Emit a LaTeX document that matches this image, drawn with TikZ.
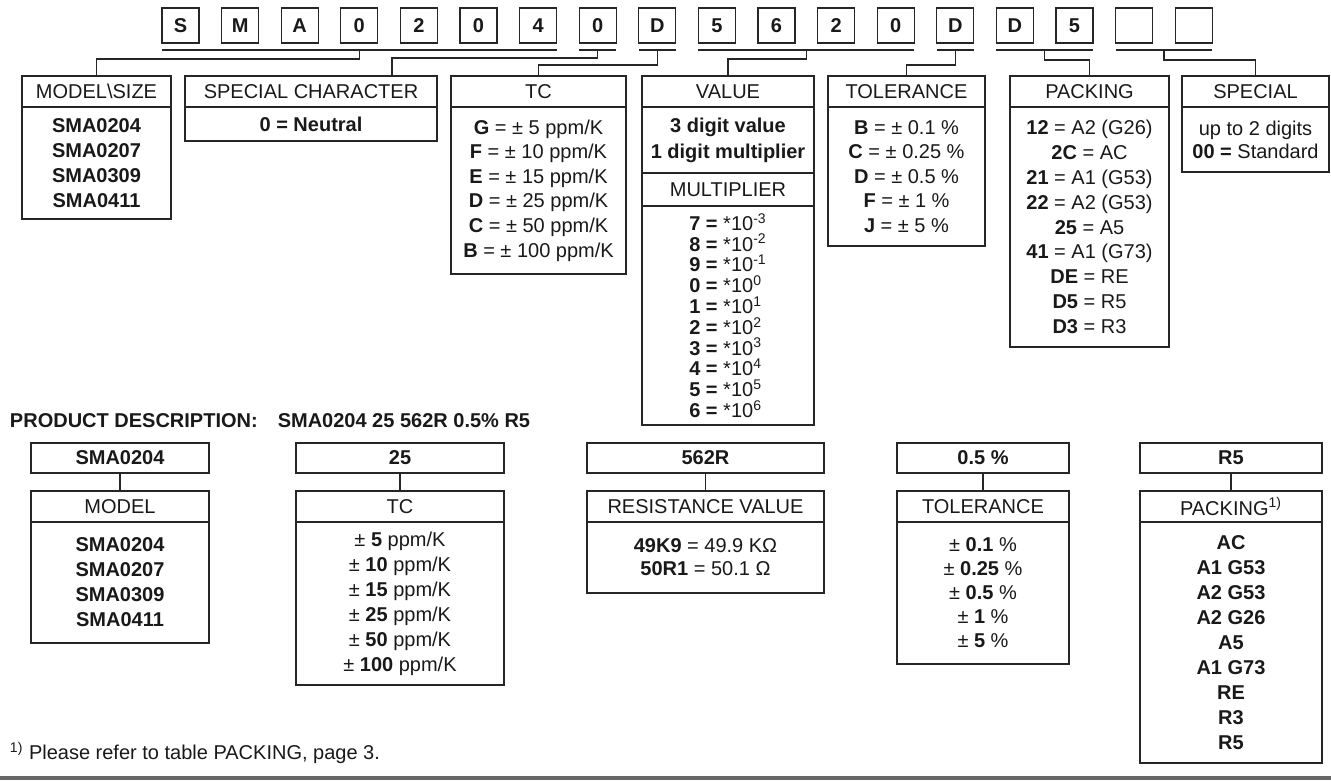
\documentclass[tikz,border=0pt]{standalone}
\usepackage{fontspec}
\setmainfont{Liberation Sans}
\usepackage{tikz}
\usetikzlibrary{positioning}

\newcommand{\ptsize}{\fontsize{10}{12.5}\selectfont}

\begin{document}
\begin{tikzpicture}[
        x=0.5pt, y=-0.5pt,
        every node/.style={outer sep=0pt, text=black!90},
        digit/.style={
            draw=black!85,
            line width=0.6pt,
            minimum width=18.5pt,
            minimum height=17.5pt,
            inner sep=0pt,
            font=\ptsize\bfseries
        },
        head/.style={
            draw=black!85,
            line width=0.6pt,
            minimum height=15.5pt,
            inner sep=0pt,
            font=\ptsize
        },
        body/.style={
            draw=black!85,
            line width=0.6pt,
            inner sep=0pt,
            align=center,
            font=\ptsize
        },
        plain/.style={
            inner sep=0pt,
            font=\ptsize
        },
        link/.style={
            draw=black!85,
            line width=0.6pt
        }
    ]
    \useasboundingbox (0,0) rectangle (1331,781);

    % Code boxes
    \foreach \ch [count=\i from 0] in {S,M,A,0,2,0,4,0,D,5,6,2,0,D,D,5,{},{}}
        \node[digit] (d\i) at ({180.5+59.6*\i},25.5) {\ch};

    % Underlines below the code groups
    \foreach \a/\b/\n in {0/6/modsz, 7/7/schar, 8/8/tc, 9/12/val, 13/13/tol, 14/15/pack, 16/17/spec}
        \draw[link] ([yshift=-3.5pt]d\a.south west) -- coordinate (u\n) ([yshift=-3.5pt]d\b.south east);

    % Box for model / size
    \node[head, minimum width=74.5pt] (modsz) at (96.5,91.5) {MODEL\textbackslash SIZE};
    \node[body, minimum width=74.5pt, minimum height=56pt, below=0pt of modsz, font=\ptsize\bfseries] (modszb) {
        SMA0204\\SMA0207\\SMA0309\\SMA0411};

    % Box for special character
    \node[head, minimum width=126pt] (schar) at (311,91.5) {SPECIAL CHARACTER};
    \node[body, minimum width=126pt, minimum height=17pt, below=0pt of schar] (scharb) {\textbf{0 = Neutral}};

    % Box for TC
    \node[head, minimum width=87.5pt] (tc) at (538.5,91.5) {TC};
    \node[body, minimum width=87.5pt, minimum height=83.5pt, below=0pt of tc, font=\fontsize{10}{12.3}\selectfont] (tcb) {
        \textbf{G} = ± 5 ppm/K\\
        \textbf{F} = ± 10 ppm/K\\
        \textbf{E} = ± 15 ppm/K\\
        \textbf{D} = ± 25 ppm/K\\
        \textbf{C} = ± 50 ppm/K\\
        \textbf{B} = ± 100 ppm/K};

    % Box for value and multiplier
    \node[head, minimum width=86pt] (val) at (728,91.5) {VALUE};
    \node[body, minimum width=86pt, minimum height=33pt, below=0pt of val, font=\fontsize{10}{13}\selectfont\bfseries] (valb) {
        3 digit value\\1 digit multiplier};
    \node[head, minimum width=86pt, minimum height=16.5pt, below=0pt of valb] (mult) {MULTIPLIER};
    \node[body, minimum width=86pt, minimum height=109.5pt, below=0pt of mult, align=left, font=\fontsize{10}{10.4}\selectfont] (multb) {
        \textbf{7 =} *10\textsuperscript{-3}\\
        \textbf{8 =} *10\textsuperscript{-2}\\
        \textbf{9 =} *10\textsuperscript{-1}\\
        \textbf{0 =} *10\textsuperscript{0}\\
        \textbf{1 =} *10\textsuperscript{1}\\
        \textbf{2 =} *10\textsuperscript{2}\\
        \textbf{3 =} *10\textsuperscript{3}\\
        \textbf{4 =} *10\textsuperscript{4}\\
        \textbf{5 =} *10\textsuperscript{5}\\
        \textbf{6 =} *10\textsuperscript{6}};

    % Box for tolerance
    \node[head, minimum width=78.5pt] (tol) at (906.5,91.5) {TOLERANCE};
    \node[body, minimum width=78.5pt, minimum height=69.5pt, below=0pt of tol, font=\fontsize{10}{12.25}\selectfont] (tolb) {
        \textbf{B} = ± 0.1 \%\\
        \textbf{C} = ± 0.25 \%\\
        \textbf{D} = ± 0.5 \%\\
        \textbf{F} = ± 1 \%\\
        \textbf{J} = ± 5 \%};

    % Box for packing
    \node[head, minimum width=79.5pt] (pack) at (1089.5,91.5) {PACKING};
    \node[body, minimum width=79.5pt, minimum height=120pt, below=0pt of pack, font=\fontsize{10}{12.4}\selectfont] (packb) {
        \textbf{12} = A2 (G26)\\
        \textbf{2C} = AC\\
        \textbf{21} = A1 (G53)\\
        \textbf{22} = A2 (G53)\\
        \textbf{25} = A5\\
        \textbf{41} = A1 (G73)\\
        \textbf{DE} = RE\\
        \textbf{D5} = R5\\
        \textbf{D3} = R3};

    % Box for special
    \node[head, minimum width=73.5pt] (spec) at (1255.5,91.5) {SPECIAL};
    \node[body, minimum width=73.5pt, minimum height=32.5pt, below=0pt of spec, font=\fontsize{10}{11.5}\selectfont] (specb) {
        up to 2 digits\\\textbf{00 =} Standard};

    % Lines from code groups to boxes
    \draw[link] (umodsz) -- ++(0,9) -| (modsz.north);
    \draw[link] (uschar) -- ++(0,8) -| ([xshift=40.5pt]schar.north);
    \draw[link] (utc) -- ++(0,15) -| (tc.north);
    \draw[link] (uval) -- ++(0,9) -| (val.north);
    \draw[link] (utol) -- ++(0,15) -| (tol.north);
    \draw[link] (upack) -- ++(0,10) -| (pack.north);
    \draw[link] (uspec) -- ++(0,10) -| (spec.north);

    % Product description
    \node[plain, anchor=west, font=\ptsize\bfseries] (pdesc) at (10,421) {PRODUCT DESCRIPTION:};
    \node[plain, right=10pt of pdesc, font=\ptsize\bfseries] (pcode) {SMA0204 25 562R 0.5\% R5};

    % Example: model
    \node[body, minimum width=89pt, minimum height=15pt, font=\ptsize\bfseries] (pmodel) at (120,458) {SMA0204};
    \node[head, minimum width=89pt, below=9pt of pmodel] (bmodel) {MODEL};
    \node[body, minimum width=89pt, minimum height=60.5pt, below=0pt of bmodel, font=\ptsize\bfseries] (bmodelb) {
        SMA0204\\SMA0207\\SMA0309\\SMA0411};

    % Example: TC
    \node[body, minimum width=104pt, minimum height=15pt, font=\ptsize\bfseries] (ptc) at (400,458) {25};
    \node[head, minimum width=104pt, below=9pt of ptc] (btc) {TC};
    \node[body, minimum width=104pt, minimum height=81.5pt, below=0pt of btc] (btcb) {
        ± \textbf{5} ppm/K\\
        ± \textbf{10} ppm/K\\
        ± \textbf{15} ppm/K\\
        ± \textbf{25} ppm/K\\
        ± \textbf{50} ppm/K\\
        ± \textbf{100} ppm/K};

    % Example: resistance value
    \node[body, minimum width=118.5pt, minimum height=15pt, font=\ptsize\bfseries] (pres) at (705.5,458) {562R};
    \node[head, minimum width=118.5pt, below=9pt of pres] (bres) {RESISTANCE VALUE};
    \node[body, minimum width=118.5pt, minimum height=35.5pt, below=0pt of bres, font=\fontsize{10}{11.5}\selectfont] (bresb) {
        \textbf{49K9} = 49.9 KΩ\\
        \textbf{50R1} = 50.1 Ω};

    % Example: tolerance
    \node[body, minimum width=86pt, minimum height=15pt, font=\ptsize\bfseries] (ptol) at (983,458) {0.5 \%};
    \node[head, minimum width=86pt, below=9pt of ptol] (btol) {TOLERANCE};
    \node[body, minimum width=86pt, minimum height=71pt, below=0pt of btol, font=\fontsize{10}{12}\selectfont] (btolb) {
        ± \textbf{0.1} \%\\
        ± \textbf{0.25} \%\\
        ± \textbf{0.5} \%\\
        ± \textbf{1} \%\\
        ± \textbf{5} \%};

    % Example: packing
    \node[body, minimum width=91pt, minimum height=15pt, font=\ptsize\bfseries] (ppack) at (1231,458) {R5};
    \node[head, minimum width=91pt, below=9pt of ppack] (bpack) {PACKING\textsuperscript{1)}};
    \node[body, minimum width=91pt, minimum height=120.5pt, below=0pt of bpack, font=\ptsize\bfseries] (bpackb) {
        AC\\A1 G53\\A2 G53\\A2 G26\\A5\\A1 G73\\RE\\R3\\R5};

    % Lines from example values to boxes
    \draw[link] (pmodel) -- (bmodel);
    \draw[link] (ptc) -- (btc);
    \draw[link] (pres) -- (bres);
    \draw[link] (ptol) -- (btol);
    \draw[link] (ppack) -- (bpack);

    % Footnote and rule
    \node[plain, anchor=west] (fnote) at (10,753) {\textsuperscript{1)} Please refer to table PACKING, page 3.};
    \draw[line width=1.7pt, black!60] (0,778) -- (1331,778);

\end{tikzpicture}
\end{document}
